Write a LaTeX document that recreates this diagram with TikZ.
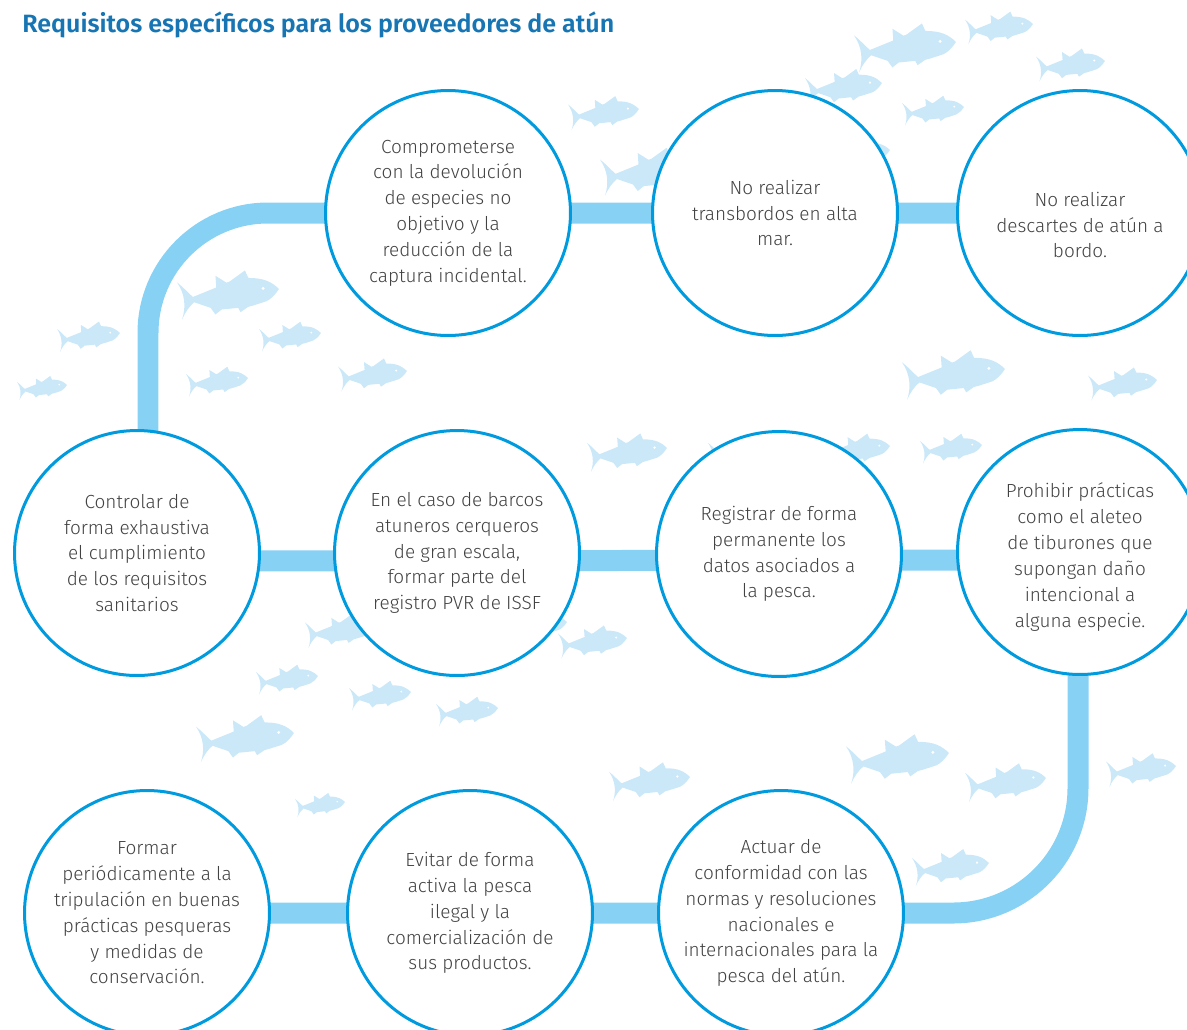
\documentclass[tikz,border=0pt]{standalone}
\usepackage{fontspec}
\newfontfamily\bodyfont{Fira Sans Light}
\newfontfamily\titlefont{Fira Sans SemiBold}
\definecolor{titleblue}{RGB}{22,117,178}
\definecolor{ringblue}{RGB}{0,155,222}
\definecolor{bandblue}{RGB}{135,209,244}
\definecolor{fishblue}{RGB}{203,232,249}
\definecolor{bodygray}{RGB}{66,66,66}
\pgfdeclarelayer{school}
\pgfdeclarelayer{bands}
\pgfsetlayers{school,bands,main}
\tikzset{
  fish/.pic={
    \fill[fishblue]
      (15.6,7.8) -- (38.5,-1.5) -- (37.7,-13) -- (48.5,-6.2) -- (51.5,-7.3)
      -- (66.6,-18.2) -- (70,-10.8)
      .. controls (85,-11) and (93,-7) .. (100,0)
      .. controls (96,6) and (92,10) .. (87.7,12)
      .. controls (82,14) and (78,15) .. (74.7,16.2)
      -- (69.8,17.5) -- (62.3,22.7) -- (60,18.5) -- (43.8,20.1) -- (37.7,25)
      -- (33,18.5) -- (16.9,13)
      .. controls (12,17) and (8,23) .. (4.9,29.9)
      .. controls (9,18) and (8,5) .. (0,-6.5)
      .. controls (6,-2) and (11,4) .. (15.6,7.8) -- cycle;
    \fill[white] (84.4,-0.6) circle (1.6);
  },
  stagetext/.style={align=center, text=bodygray, inner sep=0pt,
    font=\bodyfont\fontsize{10.8pt}{14.7pt}\selectfont},
  stage/.style={stagetext, circle, draw=ringblue, line width=0.06cm, fill=white,
    minimum size=4.9cm},
  band/.style={draw=bandblue, line width=0.42cm}
}
\begin{document}
\begin{tikzpicture}[x=0.02cm, y=-0.02cm]
\useasboundingbox (0,0) rectangle (1187,1029);
\clip (0,0) rectangle (1187,1029);

% title
\node[anchor=base west, inner sep=0pt, text=titleblue] (title) at (22,32)
  {\resizebox{11.84cm}{!}{\titlefont\fontsize{15pt}{18pt}\selectfont Requisitos específicos para los proveedores de atún}};

% school of tuna in the background: tail x, nose y, length
\begin{pgfonlayer}{school}
\foreach \tx/\ny/\len in {
  854/42/102, 965/24/68, 1036/61/69, 805/83/77, 902/107/62, 568/109/71,
  600/166/100, 825/150/65,
  177/289/102, 57/333/63, 259/333/62, 17/385/50, 186/378/62, 338/371/69,
  902/369/103, 1088/380/69,
  587/448/80, 822/446/68, 708/447/65, 920/445/62,
  305/627/70, 502/622/65, 558/638/69, 256/676/62, 349/692/62, 436/708/62,
  196/733/98, 295/802/50,
  609/777/81, 846/753/103, 965/778/81, 1106/766/70, 912/863/77}
  \pic[scale=\len/100] at (\tx,\ny) {fish};
\end{pgfonlayer}

% stages
\node[stage] (A) at (448,213) {Comprometerse\\con la devolución\\de especies no\\objetivo y la\\reducción de la\\captura incidental.};
\node[stage] (B) at (775,213) {No realizar\\transbordos en alta\\mar.};
\node[stage] (C) at (1080,213) {};
\node[stagetext] (Ctext) at ([yshift=-0.24cm]C.center) {No realizar\\descartes de atún a\\bordo.};
\node[stage] (D) at (137,553) {Controlar de\\forma exhaustiva\\el cumplimiento\\de los requisitos\\sanitarios};
\node[stage] (E) at (457,553) {En el caso de barcos\\atuneros cerqueros\\de gran escala,\\formar parte del\\registro PVR de ISSF};
\node[stage] (F) at (779,554) {Registrar de forma\\permanente los\\datos asociados a\\la pesca.};
\node[stage] (G) at (1080,552) {};
\node[stagetext] (Gtext) at ([yshift=-0.1cm]G.center) {Prohibir prácticas\\como el aleteo\\de tiburones que\\supongan daño\\intencional a\\alguna especie.};
\node[stage] (H) at (147,913) {Formar\\periódicamente a la\\tripulación en buenas\\prácticas pesqueras\\y medidas de\\conservación.};
\node[stage] (I) at (470,913) {Evitar de forma\\activa la pesca\\ilegal y la\\comercialización de\\sus productos.};
\node[stage] (J) at (781,913) {Actuar de\\conformidad con las\\normas y resoluciones\\nacionales e\\internacionales para la\\pesca del atún.};

% connecting bands, behind the stages
\begin{pgfonlayer}{bands}
\draw[band, rounded corners=2.4cm] ([xshift=0.22cm]D.center) |- (C.center);
\draw[band] ([yshift=-0.16cm]D.center) -- ([yshift=-0.16cm]G.center);
\draw[band, rounded corners=2.5cm] ([xshift=-0.04cm]G.center) |- (H.center);
\end{pgfonlayer}
\end{tikzpicture}
\end{document}
